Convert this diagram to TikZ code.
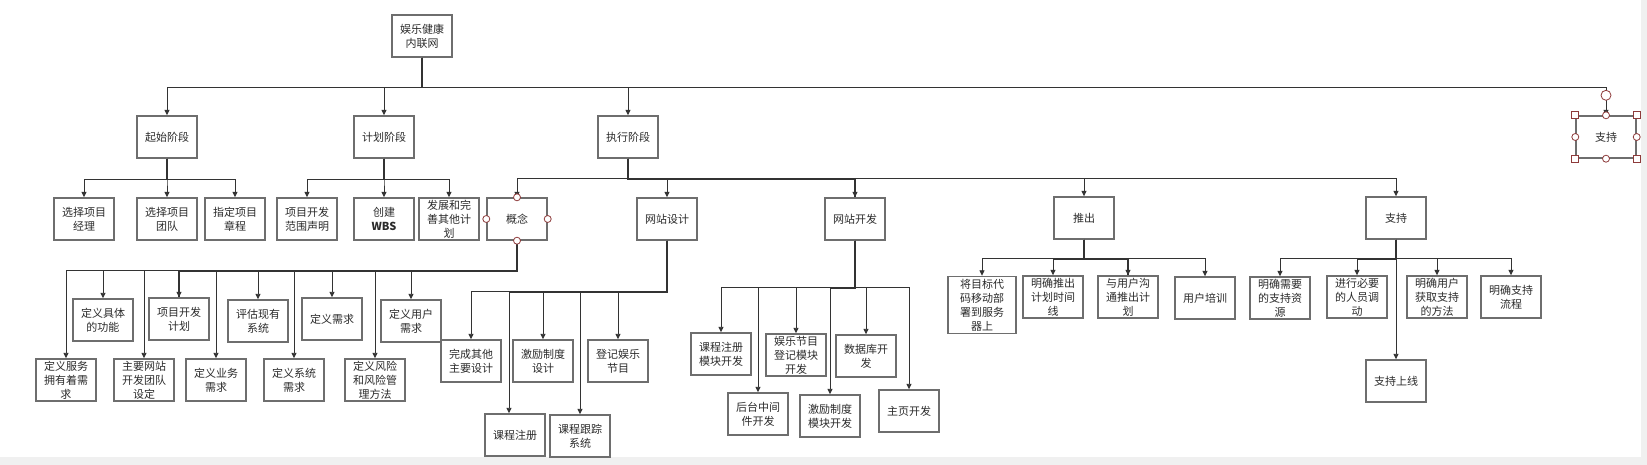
\documentclass[tikz,border=0pt]{standalone}
\usepackage{fontspec}
\setmainfont{Noto Sans CJK SC}
\usepackage{tikz}
\usetikzlibrary{arrows.meta, calc}
\definecolor{linegray}{HTML}{333333}
\definecolor{boxgray}{HTML}{6E6E6E}
\definecolor{textgray}{HTML}{2B2B2B}
\definecolor{handlered}{HTML}{8E3B3B}
\definecolor{stripgray}{HTML}{F0F0F0}
\tikzset{wbs node/.style={rectangle, draw=boxgray, line width=1.4pt, fill=white, minimum width=60pt, minimum height=42pt, inner sep=0pt, align=center, text=textgray, font=\fontsize{11}{14}\selectfont},
	link/.style={draw=linegray, line width=0.9pt, -{Triangle[length=5.5pt,width=5pt]}},
	stem/.style={draw=linegray, line width=1.8pt},
	handle/.style={circle, draw=handlered, fill=white, line width=0.8pt, inner sep=0pt, minimum size=7pt},
	corner handle/.style={rectangle, draw=handlered, fill=white, line width=0.8pt, inner sep=0pt, minimum size=7pt},}

\begin{document}
\begin{tikzpicture}[x=1pt, y=-1pt]
			\useasboundingbox (0,0) rectangle (1647,465);
			\fill[stripgray] (0,0) rectangle (1647,465);
			\fill[white] (0,0) rectangle (1641,457);

			% Phases
			\node[wbs node] (root) at (422,36) {娱乐健康\\内联网};
			\node[wbs node] (start) at (167,137) {起始阶段};
			\node[wbs node] (plan) at (384,137) {计划阶段};
			\node[wbs node] (exec) at (628,137) {执行阶段};
			\node[wbs node] (support2) at (1606,137) {支持};

			% Work packages
			\node[wbs node] (pm) at (84,219) {选择项目\\经理};
			\node[wbs node] (team) at (167,219) {选择项目\\团队};
			\node[wbs node] (charter) at (235,219) {指定项目\\章程};
			\node[wbs node] (scope) at (307,219) {项目开发\\范围声明};
			\node[wbs node] (wbs) at (384,219) {创建\\\textbf{WBS}};
			\node[wbs node] (plans) at (449,219) {发展和完\\善其他计\\划};
			\node[wbs node] (concept) at (517,219) {概念};
			\node[wbs node] (design) at (667,219) {网站设计};
			\node[wbs node] (develop) at (855,219) {网站开发};
			\node[wbs node] (rollout) at (1084,218) {推出};
			\node[wbs node] (sup) at (1396,218) {支持};

			% Concept
			\node[wbs node] (func) at (103,320) {定义具体\\的功能};
			\node[wbs node] (devplan) at (179,319) {项目开发\\计划};
			\node[wbs node] (assess) at (258,321) {评估现有\\系统};
			\node[wbs node] (req) at (332,319) {定义需求};
			\node[wbs node] (userreq) at (411,321) {定义用户\\需求};
			\node[wbs node] (owner) at (66,380) {定义服务\\拥有着需\\求};
			\node[wbs node] (team2) at (144,380) {主要网站\\开发团队\\设定};
			\node[wbs node] (bizreq) at (216,380) {定义业务\\需求};
			\node[wbs node] (sysreq) at (294,380) {定义系统\\需求};
			\node[wbs node] (risk) at (375,380) {定义风险\\和风险管\\理方法};

			% Design
			\node[wbs node] (otherdesign) at (471,361) {完成其他\\主要设计};
			\node[wbs node] (coursereg) at (515,435) {课程注册};
			\node[wbs node] (incentive) at (543,361) {激励制度\\设计};
			\node[wbs node] (track) at (580,436) {课程跟踪\\系统};
			\node[wbs node] (register) at (618,361) {登记娱乐\\节目};

			% Development
			\node[wbs node] (regmod) at (721,354) {课程注册\\模块开发};
			\node[wbs node] (backend) at (758,414) {后台中间\\件开发};
			\node[wbs node] (progmod) at (796,355) {娱乐节目\\登记模块\\开发};
			\node[wbs node] (incmod) at (830,416) {激励制度\\模块开发};
			\node[wbs node] (db) at (866,356) {数据库开\\发};
			\node[wbs node] (home) at (909,411) {主页开发};

			% Rollout
			\node[wbs node, minimum width=68pt, minimum height=57pt] (deploy) at (982,305) {将目标代\\码移动部\\署到服务\\器上};
			\node[wbs node] (timeline) at (1053,297) {明确推出\\计划时间\\线};
			\node[wbs node] (comm) at (1128,297) {与用户沟\\通推出计\\划};
			\node[wbs node] (train) at (1205,298) {用户培训};

			% Support
			\node[wbs node] (resource) at (1280,298) {明确需要\\的支持资\\源};
			\node[wbs node] (staff) at (1357,297) {进行必要\\的人员调\\动};
			\node[wbs node] (method) at (1437,297) {明确用户\\获取支持\\的方法};
			\node[wbs node] (process) at (1511,297) {明确支持\\流程};
			\node[wbs node] (online) at (1396,381) {支持上线};

			% Stems
			\draw[stem] (root.south) -- ++(0,30);
			\draw[stem] (start.south) -- ++(0,21);
			\draw[stem] (plan.south) -- ++(0,21);
			\draw[stem] (exec.south) -- ++(0,20) -| (develop.north);
			\draw[stem] (concept.south) -- ++(0,30) -| (devplan.north);
			\draw[stem] (design.south) -- ++(0,51) -- ++(-158,0);
			\draw[stem] (develop.south) -- ++(0,47) -- ++(-25,0);
			\draw[stem] (rollout.south) -- ++(0,19) -| (comm.north);
			\draw[stem] (rollout.south) -- ++(0,19) -- ++(-31,0);
			\draw[stem] (sup.south) -- ++(0,19) -- ++(-39,0);

			% Links
			\foreach \n in {start, plan, exec, support2}
				\draw[link] (root.south) -- ++(0,30) -| (\n.north);
			\foreach \n in {pm, team, charter}
				\draw[link] (start.south) -- ++(0,21) -| (\n.north);
			\foreach \n in {scope, wbs, plans}
				\draw[link] (plan.south) -- ++(0,21) -| (\n.north);
			\foreach \n in {concept, design, develop, rollout, sup}
				\draw[link] (exec.south) -- ++(0,20) -| (\n.north);
			\foreach \n in {func, devplan, assess, req, userreq, owner, team2, bizreq, sysreq, risk}
				\draw[link] (concept.south) -- ++(0,30) -| (\n.north);
			\foreach \n in {otherdesign, incentive, track, register}
				\draw[link] (design.south) -- ++(0,51) -| (\n.north);
			\draw[link] (design.south) -- ++(0,51) -| ([xshift=-6pt]coursereg.north);
			\foreach \n in {regmod, backend, progmod, incmod, db, home}
				\draw[link] (develop.south) -- ++(0,47) -| (\n.north);
			\foreach \n in {deploy, timeline, comm, train}
				\draw[link] (rollout.south) -- ++(0,19) -| (\n.north);
			\foreach \n in {resource, staff, method, process, online}
				\draw[link] (sup.south) -- ++(0,19) -| (\n.north);

			% Handles
			\foreach \a in {north, south, east, west}
				\node[handle] at (concept.\a) {};
			\foreach \a in {north, south, east, west}
				\node[handle] at (support2.\a) {};
			\foreach \a in {north east, north west, south east, south west}
				\node[corner handle] at (support2.\a) {};
			\node[handle, minimum size=10pt] at ([yshift=20pt]support2.north) {};
		\end{tikzpicture}
\end{document}
